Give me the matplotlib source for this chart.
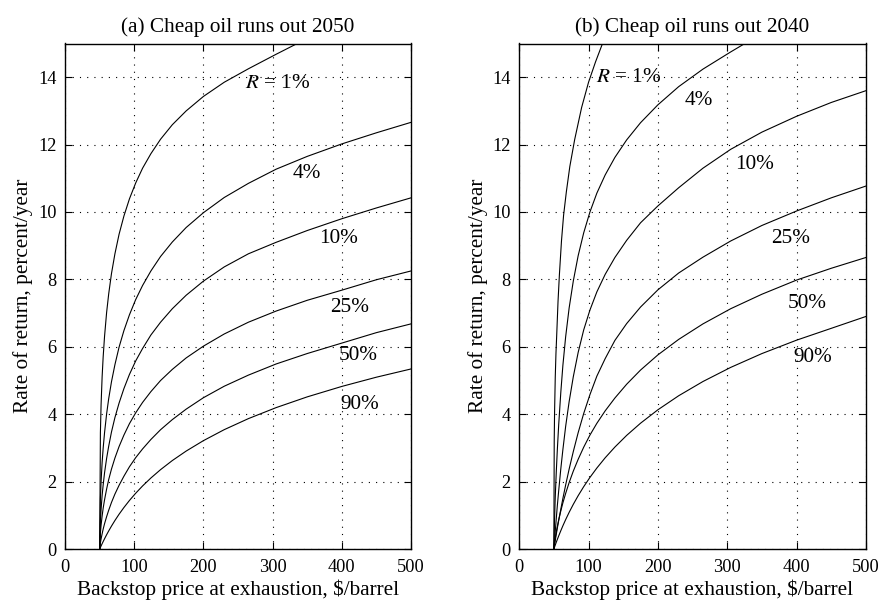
import matplotlib
matplotlib.use("Agg")
import matplotlib.pyplot as plt

plt.rcParams['font.family'] = ['Liberation Serif', 'DejaVu Serif']
plt.rcParams['mathtext.fontset'] = 'stix'

# backstop price grid ($/barrel) shared by most curves
px = [50, 51, 52, 53.5, 55, 57, 60, 63, 67, 72, 78, 85, 93, 102, 112, 124, 138, 155, 175, 200,
      230, 265, 305, 350, 400, 450, 500]

# ---- panel (a): cheap oil runs out 2050 ----
a_r1 = [0, 3.45, 4.29, 5.11, 5.70, 6.31, 7.02, 7.57, 8.17, 8.76, 9.34, 9.88, 10.39, 10.86, 11.30,
        11.73, 12.16, 12.59, 13.00, 13.43, 13.85, 14.25, 14.68, 15.15]
a_r4 = [0, 1.48, 2.01, 2.57, 2.99, 3.45, 4.01, 4.46, 4.96, 5.47, 5.99, 6.48, 6.95, 7.40, 7.82,
        8.25, 8.68, 9.11, 9.54, 9.98, 10.43, 10.85, 11.27, 11.65, 12.02, 12.35, 12.66]
a_r10 = [0, 0.82, 1.18, 1.59, 1.90, 2.26, 2.69, 3.05, 3.47, 3.90, 4.33, 4.76, 5.18, 5.58, 5.95,
         6.35, 6.73, 7.13, 7.53, 7.95, 8.37, 8.76, 9.10, 9.45, 9.80, 10.12, 10.42]
a_r25 = [0, 0.47, 0.71, 0.98, 1.21, 1.46, 1.78, 2.06, 2.37, 2.70, 3.04, 3.38, 3.72, 4.04, 4.35,
         4.67, 5.00, 5.33, 5.67, 6.02, 6.38, 6.73, 7.06, 7.38, 7.68, 7.99, 8.25]
a_r50 = [0, 0.18, 0.30, 0.45, 0.59, 0.75, 0.96, 1.15, 1.38, 1.63, 1.89, 2.16, 2.44, 2.71, 2.97,
         3.25, 3.54, 3.84, 4.15, 4.49, 4.83, 5.16, 5.49, 5.80, 6.11, 6.42, 6.68]
a_r90 = [0, 0.046, 0.091, 0.157, 0.221, 0.304, 0.423, 0.536, 0.679, 0.846, 1.032, 1.231, 1.44,
         1.654, 1.871, 2.107, 2.355, 2.625, 2.906, 3.216, 3.541, 3.869, 4.195, 4.514, 4.824, 5.098, 5.342]

# ---- panel (b): cheap oil runs out 2040 ----
b_x1 = [50, 50.5, 51, 52, 53, 54, 56, 58, 61, 64, 68, 73, 80, 90, 100, 110, 122]
b_r1 = [0, 3.2, 4.05, 5.1, 5.8, 6.3, 7.35, 8.15, 9.15, 9.9, 10.6, 11.35, 12.15, 13.1, 13.85, 14.45, 15.1]
b_r4 = [0, 0.9, 1.55, 2.3, 2.95, 3.7, 4.65, 5.45, 6.3, 7.15, 7.95, 8.7, 9.38, 10.0, 10.56,
        11.1, 11.62, 12.14, 12.65, 13.18, 13.72, 14.24, 14.75, 15.3]
b_r10 = [0, 0.27, 0.53, 0.91, 1.29, 1.74, 2.38, 2.95, 3.64, 4.37, 5.11, 5.83, 6.50, 7.09, 7.63,
         8.15, 8.65, 9.16, 9.68, 10.18, 10.72, 11.30, 11.86, 12.37, 12.84, 13.25, 13.6]
b_r25 = [0, 0.13, 0.25, 0.44, 0.62, 0.85, 1.18, 1.50, 1.90, 2.37, 2.89, 3.45, 4.02, 4.58, 5.13,
         5.65, 6.19, 6.69, 7.18, 7.69, 8.19, 8.66, 9.14, 9.60, 10.03, 10.42, 10.77]
b_r50 = [0, 0.19, 0.33, 0.51, 0.67, 0.87, 1.13, 1.37, 1.65, 1.97, 2.31, 2.66, 3.02, 3.38, 3.73,
         4.10, 4.48, 4.89, 5.31, 5.76, 6.22, 6.68, 7.13, 7.56, 7.98, 8.33, 8.65]
b_r90 = [0, 0.059, 0.117, 0.202, 0.284, 0.39, 0.543, 0.689, 0.872, 1.087, 1.325, 1.581, 1.849,
         2.124, 2.403, 2.707, 3.025, 3.372, 3.733, 4.131, 4.548, 4.97, 5.389, 5.799, 6.197, 6.548, 6.9]

labels = ['$R$ = 1%', '4%', '10%', '25%', '50%', '90%']
a_label_pos = [(307, 13.8), (349, 11.13), (395, 9.22), (412, 7.17), (423, 5.73), (426, 4.30)]
b_label_pos = [(158, 14.0), (259, 13.3), (339, 11.4), (392, 9.2), (415, 7.29), (423, 5.69)]

fs = 15.3      # titles, axis labels, curve labels
tfs = 13.2     # tick labels
fig = plt.figure(figsize=(8.8, 6), dpi=100)
ax1 = fig.add_axes([0.074, 0.085, 0.393, 0.8425])
ax2 = fig.add_axes([0.590, 0.085, 0.394, 0.8425])

panels = [
    (ax1, '(a) Cheap oil runs out 2050',
     [a_r1, a_r4, a_r10, a_r25, a_r50, a_r90], [None] * 6, a_label_pos),
    (ax2, '(b) Cheap oil runs out 2040',
     [b_r1, b_r4, b_r10, b_r25, b_r50, b_r90], [b_x1] + [None] * 5, b_label_pos),
]

for ax, title, curves, xlists, lpos in panels:
    for ys, xs in zip(curves, xlists):
        if xs is None:
            xs = px[:len(ys)]
        ax.plot(xs, ys, color='black', lw=0.8)
    for lab, (lx, ly) in zip(labels, lpos):
        ax.text(lx, ly, lab, ha='center', va='center', fontsize=fs)
    ax.set_xlim(0, 500)
    ax.set_ylim(0, 15)
    ax.set_xticks(range(0, 501, 100))
    ax.set_yticks(range(0, 15, 2))
    ax.grid(True, color='black', linestyle=(0, (1, 5.5)), linewidth=0.8)
    ax.tick_params(direction='in', top=True, right=True, length=5, width=0.8,
                   labelsize=tfs, pad=6)
    ax.tick_params(axis='x', pad=7)
    for sp in ax.spines.values():
        sp.set_linewidth(1.0)
    ax.set_title(title, fontsize=fs, pad=8)
    ax.set_xlabel('Backstop price at exhaustion, $/barrel', fontsize=fs, labelpad=3)
    ax.set_ylabel('Rate of return, percent/year', fontsize=fs, labelpad=3.5)

fig.savefig('out.png', dpi=100)
